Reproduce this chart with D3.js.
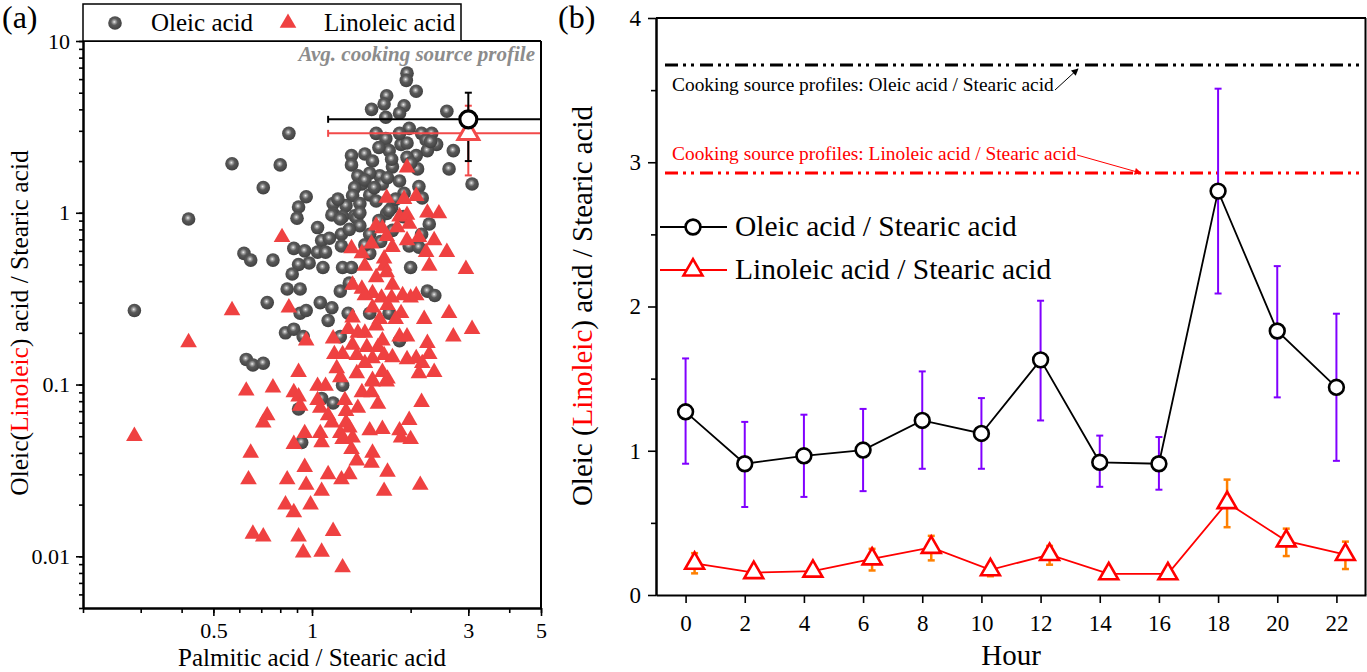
<!DOCTYPE html>
<html><head><meta charset="utf-8">
<script src="https://cdn.jsdelivr.net/npm/d3@7"></script>
<style>
body{margin:0;background:#fff}
svg{display:block}
svg text{font-family:'Liberation Serif','Tinos','Times New Roman','DejaVu Serif','Noto Serif',serif !important}
</style>
</head><body>
<svg id="c" width="1367" height="672"></svg>
<script>
// ---------------- Panel (a) data ----------------
const oleicX = [1.95,1.94,2.08,1.69,1.66,1.91,1.52,1.85,1.68,2.58,3.08,0.85,0.57,0.80,0.71,0.96,0.91,0.42,
1.57,1.68,1.98,2.16,2.32,2.23,2.4,1.87,1.95,2.25,2.08,2.7,2.62,1.32,1.45,1.72,1.95,1.32,1.53,1.76,2.1,1.38,
1.61,1.5,1.42,1.64,1.85,2.12,1.91,1.35,1.33,1.5,1.27,1.4,1.57,1.16,2.17,1.75,1.69,1.16,1.24,1.35,0.90,1.04,
1.15,1.22,1.37,1.4,1.72,1.76,1.23,1.07,1.13,1.23,0.88,0.95,1.04,1.1,0.98,1.08,0.91,0.87,1.24,1.32,1.5,1.98,
2.12,2.28,2.16,0.62,0.65,0.76,2.0,0.84,0.92,1.22,1.3,2.25,2.37,0.287,0.73,0.92,0.96,1.06,1.15,1.29,1.5,1.72,
1.12,0.83,0.88,0.94,1.22,1.85,0.63,0.66,0.71,1.24,1.07,1.16,0.91,0.93,
1.45,1.7,1.8,1.55,2.0,1.6,1.75,1.4,1.6,1.3,1.5,1.45,1.62,1.9,1.2,2.3,1.85];
const oleicY = [6.5,5.9,5.1,4.8,4.3,4.2,4.0,3.8,3.6,3.9,1.47,2.9,1.93,1.9,1.4,1.24,1.08,0.92,
2.9,2.7,3.1,2.9,2.9,2.65,2.5,2.5,2.55,2.3,2.15,2.3,1.8,2.15,2.2,2.3,2.1,1.9,2.0,1.85,1.8,1.64,
1.64,1.7,1.47,1.47,1.53,1.42,1.3,1.4,1.26,1.27,1.1,1.13,1.17,1.13,1.22,1.07,0.99,0.99,0.95,0.96,0.93,0.82,
0.97,0.92,0.93,0.84,1.03,0.79,0.75,0.69,0.71,0.64,0.62,0.6,0.59,0.59,0.51,0.48,0.5,0.44,0.48,0.48,0.58,0.64,
0.63,0.86,0.75,0.58,0.53,0.53,0.48,0.36,0.36,0.35,0.39,0.35,0.33,0.27,0.3,0.26,0.27,0.3,0.28,0.26,0.26,0.26,
0.236,0.2,0.21,0.19,0.19,0.18,0.14,0.13,0.133,0.099,0.083,0.078,0.072,0.046,
1.55,1.6,1.2,1.4,1.95,2.4,2.05,1.0,0.9,0.8,0.75,0.65,0.68,0.95,1.2,2.6,2.9];

const linoleicX = [1.95,1.69,1.91,2.08,2.25,2.44,1.85,1.95,1.57,1.64,1.82,1.98,0.81,1.69,1.95,2.12,2.36,1.32,
1.52,1.76,2.23,2.58,1.42,1.66,1.45,2.28,2.95,1.66,1.69,1.57,1.76,1.33,1.42,1.53,1.45,1.63,2.08,2.0,1.75,1.89,
0.57,0.85,1.53,1.7,1.87,1.8,2.62,2.2,3.08,1.33,1.61,1.29,1.45,1.38,1.57,0.42,0.96,1.16,1.64,1.85,1.95,2.7,
2.25,1.33,1.47,1.59,1.17,1.24,1.37,1.53,1.66,1.76,1.95,2.08,2.28,2.17,1.45,1.19,1.37,1.64,1.53,1.7,2.12,2.36,
0.91,1.22,1.04,1.1,0.63,0.76,0.88,1.42,1.52,1.53,1.69,0.91,1.04,0.92,1.06,1.26,1.59,1.38,1.27,2.16,0.73,0.71,
1.12,1.15,1.27,0.287,0.95,1.06,1.22,1.3,1.5,1.64,1.85,1.98,1.87,2.0,0.88,1.07,1.24,1.33,1.32,1.53,0.65,1.37,
1.52,0.95,1.12,1.3,1.7,0.64,0.84,1.23,2.14,0.96,1.07,1.66,0.83,0.99,0.88,0.66,0.71,0.91,1.16,0.94,1.07,1.24];
const linoleicY = [1.83,1.22,1.2,1.25,1.0,0.99,0.95,0.97,0.84,0.81,0.82,0.86,0.72,0.73,0.69,0.72,0.69,0.62,
0.66,0.63,0.59,0.59,0.58,0.54,0.49,0.49,0.47,0.49,0.45,0.42,0.38,0.38,0.36,0.34,0.33,0.32,0.33,0.32,0.32,0.33,
0.27,0.28,0.28,0.29,0.26,0.24,0.26,0.24,0.21,0.245,0.24,0.21,0.2,0.2,0.22,0.176,0.18,0.185,0.18,0.19,0.19,0.19,
0.174,0.17,0.165,0.165,0.15,0.15,0.148,0.142,0.148,0.144,0.14,0.142,0.15,0.133,0.133,0.124,0.116,0.118,0.106,0.108,0.116,0.118,
0.118,0.11,0.098,0.098,0.092,0.096,0.09,0.09,0.09,0.104,0.104,0.085,0.081,0.075,0.073,0.081,0.077,0.073,0.07,0.079,0.066,0.06,
0.066,0.06,0.06,0.05,0.052,0.052,0.052,0.056,0.054,0.055,0.054,0.062,0.049,0.048,0.045,0.046,0.048,0.049,0.042,0.04,0.04,0.036,
0.035,0.033,0.03,0.03,0.031,0.028,0.028,0.028,0.026,0.026,0.024,0.024,0.02,0.02,0.018,0.0135,0.013,0.013,0.014,0.0105,0.0106,0.0086];

// average cooking source profile
const avgX = 3.0, avgXLo = 1.12, avgXHi = 5.0;
const avgOleic = 3.5, avgOleicLo = 2.0, avgOleicHi = 5.0;
const avgLinoleic = 2.9, avgLinoleicLo = 1.65, avgLinoleicHi = 4.2;

const aXTicks = [0.5, 1, 3, 5];
const aXTickLabels = ["0.5", "1", "3", "5"];
const aYTicks = [0.01, 0.1, 1, 10];
const aYTickLabels = ["0.01", "0.1", "1", "10"];

// ---------------- Panel (b) data ----------------
const hours = [0,2,4,6,8,10,12,14,16,18,20,22];
const oleicRatio   = [1.27,0.91,0.965,1.005,1.21,1.12,1.63,0.92,0.91,2.80,1.83,1.44];
const oleicRatioHi = [1.64,1.20,1.25,1.29,1.55,1.365,2.04,1.105,1.095,3.51,2.28,1.95];
const oleicRatioLo = [0.91,0.61,0.68,0.72,0.875,0.875,1.21,0.75,0.73,2.09,1.37,0.93];
const linRatio   = [0.22,0.155,0.165,0.25,0.33,0.175,0.28,0.147,0.147,0.64,0.375,0.28];
const linRatioHi = [0.29,0.17,0.19,0.32,0.41,0.20,0.34,0.16,0.16,0.80,0.46,0.37];
const linRatioLo = [0.15,0.14,0.14,0.17,0.24,0.13,0.21,0.135,0.135,0.47,0.27,0.18];
const profileOleic = 3.675, profileLinoleic = 2.925;
const bYTicks = [0,1,2,3,4];
const bYMinor = [0.5,1.5,2.5,3.5];

// ---------------- Drawing ----------------
const FONT = "'Liberation Serif','Tinos','Times New Roman','DejaVu Serif','Noto Serif',serif";
const svg = d3.select('#c').attr('font-family', FONT);
const defs = svg.append('defs');
const g1 = defs.append('radialGradient').attr('id','ball').attr('cx','0.45').attr('cy','0.42').attr('r','0.6');
[[0,'#f2f2f2'],[0.16,'#a9a9a9'],[0.42,'#5a5a5a'],[1,'#3e3e3e']].forEach(s=>g1.append('stop').attr('offset',s[0]).attr('stop-color',s[1]));
function arrowMarker(id, color){
  defs.append('marker').attr('id',id).attr('viewBox','0 0 10 10').attr('refX',9).attr('refY',5)
    .attr('markerWidth',9).attr('markerHeight',7).attr('markerUnits','userSpaceOnUse').attr('orient','auto')
    .append('path').attr('d','M0,0L10,5L0,10z').attr('fill',color);
}
arrowMarker('arrK','#000'); arrowMarker('arrR','#f00');

const RED = '#ef4141';
function T(g, x, y, size, str){
  return g.append('text').attr('x',x).attr('y',y).attr('font-size',size).attr('font-family',FONT).text(str);
}

// ===== Panel (a) =====
const ax = d3.scaleLog().domain([0.2,5]).range([83,541]);
const ay = d3.scaleLog().domain([0.005,10]).range([608,41]);
const A = svg.append('g');

A.append('g').selectAll('circle').data(oleicX).join('circle')
  .attr('cx',(d)=>ax(d)).attr('cy',(d,i)=>ay(oleicY[i])).attr('r',6.8).attr('fill','url(#ball)');
const triA = d3.symbol().type(d3.symbolTriangle).size(120);
A.append('g').selectAll('path').data(linoleicX).join('path')
  .attr('d',triA).attr('transform',(d,i)=>`translate(${ax(d)},${ay(linoleicY[i])})`).attr('fill',RED);

function hbar(g, y, x0, x1, col){
  g.append('line').attr('x1',ax(x0)).attr('x2',ax(x1)).attr('y1',ay(y)).attr('y2',ay(y)).attr('stroke',col).attr('stroke-width',2);
  [x0,x1].forEach(v=>g.append('line').attr('x1',ax(v)).attr('x2',ax(v)).attr('y1',ay(y)-3.5).attr('y2',ay(y)+3.5).attr('stroke',col).attr('stroke-width',2));
}
function vbar(g, x, y0, y1, col){
  g.append('line').attr('x1',ax(x)).attr('x2',ax(x)).attr('y1',ay(y0)).attr('y2',ay(y1)).attr('stroke',col).attr('stroke-width',2);
  [y0,y1].forEach(v=>g.append('line').attr('x1',ax(x)-3.5).attr('x2',ax(x)+3.5).attr('y1',ay(v)).attr('y2',ay(v)).attr('stroke',col).attr('stroke-width',2));
}
const AV = A.append('g');
hbar(AV, avgLinoleic, avgXLo, avgXHi, '#f24a4a');
vbar(AV, avgX, avgLinoleicLo, avgLinoleicHi, '#f24a4a');
hbar(AV, avgOleic, avgXLo, avgXHi, '#000');
vbar(AV, avgX, avgOleicLo, avgOleicHi, '#000');
AV.append('path').attr('d',d3.symbol().type(d3.symbolTriangle).size(190))
  .attr('transform',`translate(${ax(avgX)},${ay(avgLinoleic)})`).attr('fill','#fff').attr('stroke','#f24a4a').attr('stroke-width',3);
AV.append('circle').attr('cx',ax(avgX)).attr('cy',ay(avgOleic)).attr('r',8.5).attr('fill','#fff').attr('stroke','#000').attr('stroke-width',3.2);

A.append('line').attr('x1',83).attr('x2',541).attr('y1',41).attr('y2',41).attr('stroke','#000').attr('stroke-width',2);
A.append('line').attr('x1',541).attr('x2',541).attr('y1',41).attr('y2',608).attr('stroke','#000').attr('stroke-width',2);

function styleAxis(g, fs){
  g.attr('font-family', FONT);
  g.select('.domain').attr('stroke','#000').attr('stroke-width',2);
  g.selectAll('.tick line').attr('stroke','#000').attr('stroke-width',1.6);
  g.selectAll('.tick text').attr('font-family',FONT).attr('font-size',fs).attr('fill','#000');
}
const axMinor = A.append('g').attr('transform','translate(0,608)')
  .call(d3.axisBottom(ax).tickValues(ax.ticks()).tickFormat('').tickSize(5).tickSizeOuter(0));
styleAxis(axMinor, 22);
const axMajor = A.append('g').attr('transform','translate(0,608)')
  .call(d3.axisBottom(ax).tickValues(aXTicks).tickFormat((d,i)=>aXTickLabels[i]).tickSize(8).tickPadding(6).tickSizeOuter(0));
styleAxis(axMajor, 22);
const ayMinor = A.append('g').attr('transform','translate(83,0)')
  .call(d3.axisLeft(ay).tickValues(ay.ticks()).tickFormat('').tickSize(4).tickSizeOuter(0));
styleAxis(ayMinor, 22);
const ayMajor = A.append('g').attr('transform','translate(83,0)')
  .call(d3.axisLeft(ay).tickValues(aYTicks).tickFormat((d,i)=>aYTickLabels[i]).tickSize(7).tickPadding(6).tickSizeOuter(0));
styleAxis(ayMajor, 22);

T(A, 312, 666, 25, 'Palmitic acid / Stearic acid').attr('text-anchor','middle');
const ta = A.append('text').attr('transform','translate(28,323) rotate(-90)').attr('text-anchor','middle').attr('font-size',25.5).attr('font-family',FONT);
ta.append('tspan').text('Oleic(');
ta.append('tspan').attr('fill','#f00').text('Linoleic');
ta.append('tspan').text(') acid / Stearic acid');
T(A, 535, 61, 21, 'Avg. cooking source profile').attr('text-anchor','end')
  .attr('font-weight','bold').attr('font-style','italic').attr('fill','#8c8c8c');
T(A, 2, 28, 32, '(a)');

A.append('rect').attr('x',83).attr('y',4).attr('width',378).attr('height',37).attr('fill','#fff').attr('stroke','#000').attr('stroke-width',1.5);
A.append('circle').attr('cx',115).attr('cy',23).attr('r',6.8).attr('fill','url(#ball)');
T(A, 151, 31, 25, 'Oleic acid');
A.append('path').attr('d',triA).attr('transform','translate(288,23)').attr('fill',RED);
T(A, 324, 31, 25, 'Linoleic acid');

// ===== Panel (b) =====
const bx = d3.scaleLinear().domain([-1,23]).range([656,1366]);
const by = d3.scaleLinear().domain([0,4]).range([595,18]);
const B = svg.append('g');
const linOffset = 9;

B.append('line').attr('x1',656).attr('x2',1366).attr('y1',18).attr('y2',18).attr('stroke','#000').attr('stroke-width',2);
B.append('line').attr('x1',1365.5).attr('x2',1365.5).attr('y1',18).attr('y2',595).attr('stroke','#000').attr('stroke-width',2);

const dashPat = '13,5,3,5,3,6';
B.append('line').attr('x1',665).attr('x2',1362).attr('y1',by(profileOleic)).attr('y2',by(profileOleic))
  .attr('stroke','#000').attr('stroke-width',3).attr('stroke-dasharray',dashPat);
B.append('line').attr('x1',665).attr('x2',1362).attr('y1',by(profileLinoleic)).attr('y2',by(profileLinoleic))
  .attr('stroke','#f00').attr('stroke-width',3).attr('stroke-dasharray',dashPat);
T(B, 672, 91, 19.4, 'Cooking source profiles: Oleic acid / Stearic acid').attr('fill','#000');
T(B, 672, 160, 19.4, 'Cooking source profiles: Linoleic acid / Stearic acid').attr('fill','#f00');
B.append('line').attr('x1',1055).attr('y1',90).attr('x2',1078).attr('y2',by(profileOleic)+4).attr('stroke','#000').attr('stroke-width',1).attr('marker-end','url(#arrK)');
B.append('line').attr('x1',1077).attr('y1',155).attr('x2',1141).attr('y2',by(profileLinoleic)).attr('stroke','#f00').attr('stroke-width',1).attr('marker-end','url(#arrR)');

function ebars(vals, hi, lo, dx, col, w){
  const g = B.append('g').attr('stroke',col).attr('stroke-width',w);
  hours.forEach((h,i)=>{
    const x = bx(h)+dx;
    g.append('line').attr('x1',x).attr('x2',x).attr('y1',by(hi[i])).attr('y2',by(lo[i]));
    g.append('line').attr('x1',x-3.5).attr('x2',x+3.5).attr('y1',by(hi[i])).attr('y2',by(hi[i]));
    g.append('line').attr('x1',x-3.5).attr('x2',x+3.5).attr('y1',by(lo[i])).attr('y2',by(lo[i]));
  });
}
ebars(oleicRatio, oleicRatioHi, oleicRatioLo, 0, '#8000ff', 2);
ebars(linRatio, linRatioHi, linRatioLo, linOffset, '#ff8000', 2.5);

const lineK = d3.line().x((d,i)=>bx(hours[i])).y(d=>by(d));
const lineR = d3.line().x((d,i)=>bx(hours[i])+linOffset).y(d=>by(d));
B.append('path').attr('d',lineK(oleicRatio)).attr('fill','none').attr('stroke','#000').attr('stroke-width',1.8);
B.append('path').attr('d',lineR(linRatio)).attr('fill','none').attr('stroke','#f00').attr('stroke-width',1.8);
B.append('g').selectAll('circle').data(oleicRatio).join('circle')
  .attr('cx',(d,i)=>bx(hours[i])).attr('cy',d=>by(d)).attr('r',7.4).attr('fill','#fff').attr('stroke','#000').attr('stroke-width',2.6);
const triB = d3.symbol().type(d3.symbolTriangle).size(155);
B.append('g').selectAll('path').data(linRatio).join('path')
  .attr('d',triB).attr('transform',(d,i)=>`translate(${bx(hours[i])+linOffset},${by(d)})`)
  .attr('fill','#fff').attr('stroke','#f00').attr('stroke-width',2.6);

const bxAxis = B.append('g').attr('transform','translate(0,595)')
  .call(d3.axisBottom(bx).tickValues(hours).tickFormat(d=>String(d)).tickSize(8).tickPadding(8).tickSizeOuter(0));
styleAxis(bxAxis, 23);
bxAxis.selectAll('.tick text').attr('dy','0.85em');
const byMinor = B.append('g').attr('transform','translate(656,0)')
  .call(d3.axisLeft(by).tickValues(bYMinor).tickFormat('').tickSize(5).tickSizeOuter(0));
styleAxis(byMinor, 23);
const byAxis = B.append('g').attr('transform','translate(656,0)')
  .call(d3.axisLeft(by).tickValues(bYTicks).tickFormat(d=>String(d)).tickSize(8).tickPadding(7).tickSizeOuter(0));
styleAxis(byAxis, 23);

T(B, 1011, 665, 29, 'Hour').attr('text-anchor','middle');
const tb = B.append('text').attr('transform','translate(592,306) rotate(-90)').attr('text-anchor','middle').attr('font-size',29).attr('font-family',FONT);
tb.append('tspan').text('Oleic (');
tb.append('tspan').attr('fill','#f00').text('Linoleic');
tb.append('tspan').text(') acid / Stearic acid');
T(B, 558, 28, 32, '(b)');

B.append('line').attr('x1',660).attr('x2',727).attr('y1',227).attr('y2',227).attr('stroke','#000').attr('stroke-width',2);
B.append('circle').attr('cx',693).attr('cy',227).attr('r',7.4).attr('fill','#fff').attr('stroke','#000').attr('stroke-width',2.6);
T(B, 735, 236, 29.5, 'Oleic acid / Stearic acid');
B.append('line').attr('x1',660).attr('x2',727).attr('y1',270).attr('y2',270).attr('stroke','#f00').attr('stroke-width',2);
B.append('path').attr('d',triB).attr('transform','translate(693,270)').attr('fill','#fff').attr('stroke','#f00').attr('stroke-width',2.6);
T(B, 735, 279, 29.5, 'Linoleic acid / Stearic acid');
</script>
</body></html>
